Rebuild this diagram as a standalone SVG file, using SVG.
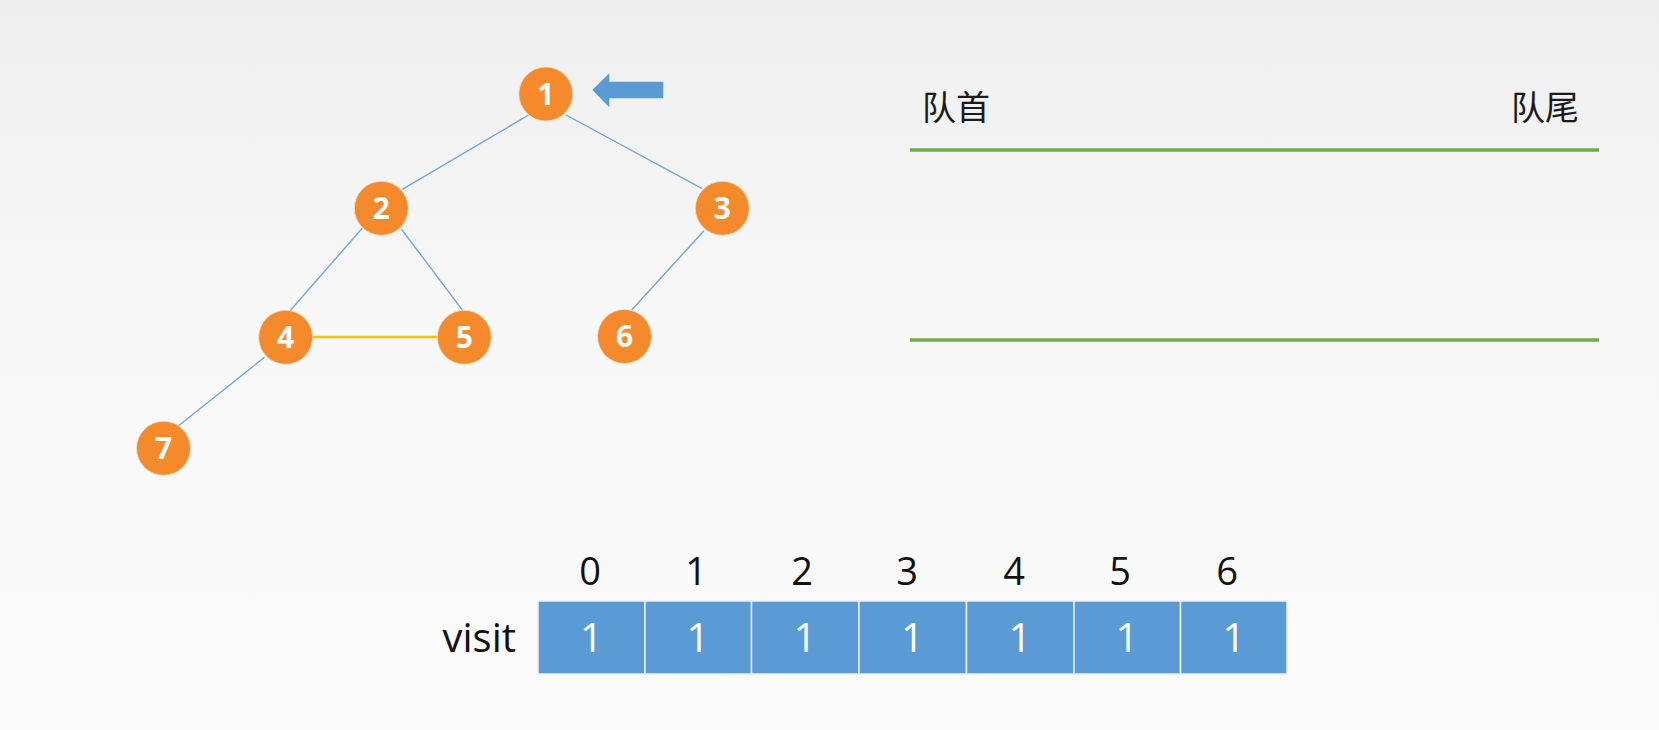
<svg xmlns="http://www.w3.org/2000/svg" width="1659" height="730" viewBox="0 0 1659 730">
<defs>
<linearGradient id="bg" x1="0" y1="0" x2="0" y2="1">
<stop offset="0" stop-color="#eeeeee"/>
<stop offset="0.4" stop-color="#f7f7f7"/>
<stop offset="1" stop-color="#fafafa"/>
</linearGradient>
<style>
.node circle{fill:#f58a2c;stroke:#f0e0d0;stroke-width:0.8}
.node text{fill:#ffffff;font-family:"Open Sans","Liberation Sans",sans-serif;font-weight:bold;font-size:30px;text-anchor:middle}
.edge{stroke:#6fa6d6;stroke-width:1.4;fill:none}
.hl{stroke:#ffc000;stroke-width:2.5;fill:none}
.queue{stroke:#70ad47;stroke-width:3.5}
.lbl{font-family:"Noto Sans CJK SC","Noto Sans",sans-serif;font-size:34px;fill:#1a1a1a}
.idx{font-family:"Open Sans","Liberation Sans",sans-serif;font-size:38px;fill:#111111;text-anchor:middle}
.cell rect{fill:#5b9bd5;stroke:#e8f0f8;stroke-width:1.5}
.cell text{font-family:"Open Sans","Liberation Sans",sans-serif;font-size:40px;fill:#ffffff;text-anchor:middle}
</style>
</defs>
<rect width="1659" height="730" fill="url(#bg)"/>
<g id="connectors">
<line class="edge" x1="528.6" y1="115" x2="402.3" y2="189.3"/>
<line class="edge" x1="566.1" y1="115" x2="701.7" y2="188.3"/>
<line class="edge" x1="362.2" y1="228.3" x2="288.3" y2="312.7"/>
<line class="edge" x1="401.6" y1="229.3" x2="462.8" y2="310.7"/>
<line class="edge" x1="704" y1="230.7" x2="631.7" y2="310"/>
<line class="edge" x1="264.6" y1="357.3" x2="178.5" y2="425.7"/>
<line class="hl" x1="312.4" y1="337" x2="438" y2="337"/>
</g>
<g id="node1" class="node"><circle cx="545.8" cy="94" r="27"/><text x="545.8" y="104.5">1</text></g>
<g id="node2" class="node"><circle cx="381.3" cy="208.3" r="27"/><text x="381.3" y="218.8">2</text></g>
<g id="node3" class="node"><circle cx="722.3" cy="208.3" r="27"/><text x="722.3" y="218.8">3</text></g>
<g id="node4" class="node"><circle cx="285.6" cy="337.3" r="27"/><text x="285.6" y="347.8">4</text></g>
<g id="node5" class="node"><circle cx="464.3" cy="337.3" r="27"/><text x="464.3" y="347.8">5</text></g>
<g id="node6" class="node"><circle cx="624.5" cy="336.5" r="27"/><text x="624.5" y="347">6</text></g>
<g id="node7" class="node"><circle cx="163.5" cy="448.3" r="27"/><text x="163.5" y="458.8">7</text></g>
<g id="pointer">
<polygon points="592.3,90 609.3,73.3 609.3,81.7 663.3,81.7 663.3,98.3 609.3,98.3 609.3,107.3" fill="#5b9bd5"/>
</g>
<g id="queue">
<line class="queue" x1="910" y1="150" x2="1599" y2="150"/>
<line class="queue" x1="910" y1="340" x2="1599" y2="340"/>
<text class="lbl" x="922" y="120">队首</text>
<text class="lbl" x="1511" y="120">队尾</text>
</g>
<g id="visit">
<text x="516" y="652" font-family="Open Sans, Liberation Sans, sans-serif" font-size="40" fill="#111111" text-anchor="end">visit</text>
<text class="idx" x="590" y="585">0</text>
<text class="idx" x="696" y="585">1</text>
<text class="idx" x="802" y="585">2</text>
<text class="idx" x="907" y="585">3</text>
<text class="idx" x="1014" y="585">4</text>
<text class="idx" x="1120" y="585">5</text>
<text class="idx" x="1227" y="585">6</text>
<g class="cell"><rect x="538" y="601" width="107" height="73"/><text x="591.5" y="652">1</text></g>
<g class="cell"><rect x="645" y="601" width="106.5" height="73"/><text x="698" y="652">1</text></g>
<g class="cell"><rect x="751.5" y="601" width="107.5" height="73"/><text x="805" y="652">1</text></g>
<g class="cell"><rect x="859" y="601" width="107.5" height="73"/><text x="912.5" y="652">1</text></g>
<g class="cell"><rect x="966.5" y="601" width="107.5" height="73"/><text x="1020" y="652">1</text></g>
<g class="cell"><rect x="1074" y="601" width="106.5" height="73"/><text x="1127" y="652">1</text></g>
<g class="cell"><rect x="1180.5" y="601" width="106.5" height="73"/><text x="1234" y="652">1</text></g>
</g>
</svg>
